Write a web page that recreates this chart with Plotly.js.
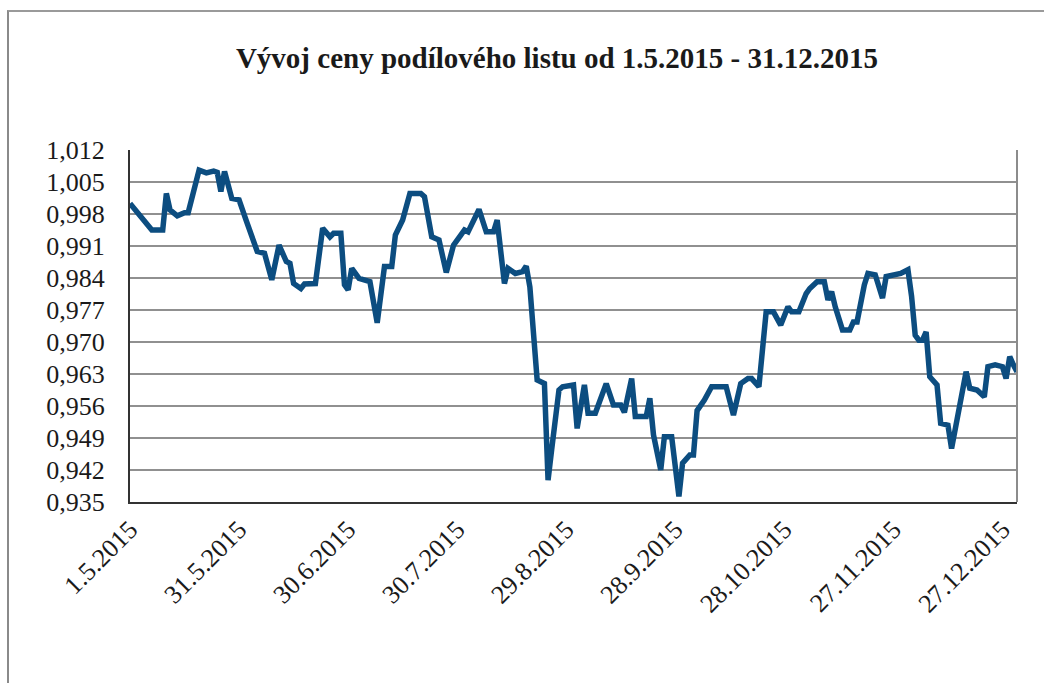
<!DOCTYPE html>
<html>
<head>
<meta charset="utf-8">
<script src="https://cdn.plot.ly/plotly-3.0.1.min.js"></script>
<style>
html,body{margin:0;padding:0;background:#fff;}
#wrap{position:relative;width:1044px;height:683px;}
#chart{position:absolute;left:0;top:0;width:1044px;height:683px;}
#frame{position:absolute;left:7px;top:10px;width:1037px;height:673px;border-top:2px solid #9a9a9a;border-left:2px solid #8a8a8a;pointer-events:none;}
</style>
</head>
<body>
<div id="wrap"><div id="chart"></div><div id="frame"></div></div>
<script>
const chartTitle = "Vývoj ceny podílového listu od 1.5.2015 - 31.12.2015";

const dates = [
"2015-05-01","2015-05-06","2015-05-07","2015-05-10","2015-05-11","2015-05-12","2015-05-14","2015-05-16","2015-05-17","2015-05-20",
"2015-05-22","2015-05-24","2015-05-25","2015-05-26","2015-05-27","2015-05-29","2015-05-31","2015-06-02","2015-06-05","2015-06-07",
"2015-06-09","2015-06-11","2015-06-13","2015-06-14","2015-06-15","2015-06-17","2015-06-18","2015-06-21","2015-06-23","2015-06-25",
"2015-06-26","2015-06-28","2015-06-29","2015-06-30","2015-07-01","2015-07-03","2015-07-05","2015-07-06","2015-07-08","2015-07-09",
"2015-07-10","2015-07-12","2015-07-13","2015-07-15","2015-07-17","2015-07-20","2015-07-21","2015-07-23","2015-07-25","2015-07-27",
"2015-07-29","2015-07-31","2015-08-01","2015-08-02","2015-08-03","2015-08-05","2015-08-07","2015-08-09","2015-08-10","2015-08-11",
"2015-08-12","2015-08-13","2015-08-15","2015-08-17","2015-08-18","2015-08-19","2015-08-20","2015-08-21","2015-08-23","2015-08-24",
"2015-08-25","2015-08-27","2015-08-28","2015-08-31","2015-09-01","2015-09-03","2015-09-04","2015-09-06","2015-09-09","2015-09-11",
"2015-09-13","2015-09-14","2015-09-16","2015-09-17","2015-09-20","2015-09-21","2015-09-22","2015-09-24","2015-09-25","2015-09-27",
"2015-09-29","2015-09-30","2015-10-02","2015-10-03","2015-10-04","2015-10-06","2015-10-08","2015-10-12","2015-10-14","2015-10-16",
"2015-10-18","2015-10-19","2015-10-21","2015-10-22","2015-10-23","2015-10-25","2015-10-27","2015-10-29","2015-10-30","2015-11-01",
"2015-11-03","2015-11-04","2015-11-06","2015-11-08","2015-11-09","2015-11-10","2015-11-11","2015-11-13","2015-11-15","2015-11-16",
"2015-11-17","2015-11-19","2015-11-20","2015-11-22","2015-11-24","2015-11-25","2015-11-27","2015-11-29","2015-12-01","2015-12-02",
"2015-12-03","2015-12-04","2015-12-05","2015-12-06","2015-12-07","2015-12-09","2015-12-10","2015-12-12","2015-12-13","2015-12-15",
"2015-12-17","2015-12-18","2015-12-20","2015-12-22","2015-12-23","2015-12-25","2015-12-27","2015-12-28","2015-12-29","2015-12-30",
"2015-12-31"
];

const prices = [
1.0003,0.9952,0.9945,0.9945,1.0025,0.9989,0.9976,0.9983,0.9983,1.0076,
1.0070,1.0074,1.0071,1.0029,1.0073,1.0014,1.0011,0.9965,0.9898,0.9894,
0.9836,0.9912,0.9876,0.9872,0.9828,0.9817,0.9827,0.9828,0.9949,0.9930,
0.9938,0.9938,0.9825,0.9814,0.9861,0.9839,0.9836,0.9832,0.9742,0.9814,
0.9865,0.9865,0.9934,0.9967,1.0025,1.0025,1.0018,0.9930,0.9923,0.9852,
0.9912,0.9934,0.9945,0.9941,0.9956,0.9990,0.9941,0.9941,0.9967,0.9901,
0.9828,0.9861,0.9850,0.9854,0.9866,0.9820,0.9720,0.9617,0.9609,0.9398,
0.9465,0.9595,0.9602,0.9606,0.9511,0.9606,0.9544,0.9544,0.9609,0.9562,
0.9562,0.9546,0.9620,0.9537,0.9537,0.9577,0.9497,0.9420,0.9493,0.9493,
0.9362,0.9435,0.9453,0.9453,0.9550,0.9573,0.9602,0.9602,0.9540,0.9609,
0.9620,0.9620,0.9602,0.9697,0.9766,0.9766,0.9737,0.9777,0.9766,0.9766,
0.9806,0.9817,0.9832,0.9832,0.9792,0.9810,0.9777,0.9726,0.9726,0.9744,
0.9744,0.9825,0.9850,0.9847,0.9796,0.9843,0.9847,0.9850,0.9858,0.9800,
0.9715,0.9704,0.9704,0.9722,0.9624,0.9606,0.9522,0.9518,0.9467,0.9559,
0.9635,0.9599,0.9595,0.9580,0.9646,0.9650,0.9646,0.9620,0.9668,0.9650,
0.9635
];

const xTickVals = ["2015-05-01","2015-05-31","2015-06-30","2015-07-30","2015-08-29","2015-09-28","2015-10-28","2015-11-27","2015-12-27"];
const xTickText = ["1.5.2015","31.5.2015","30.6.2015","30.7.2015","29.8.2015","28.9.2015","28.10.2015","27.11.2015","27.12.2015"];
const yTickVals = [0.935,0.942,0.949,0.956,0.963,0.970,0.977,0.984,0.991,0.998,1.005,1.012];
const yTickText = ["0,935","0,942","0,949","0,956","0,963","0,970","0,977","0,984","0,991","0,998","1,005","1,012"];

const serif = '"Liberation Serif", "Times New Roman", serif';

const trace = {
  x: dates, y: prices, type: 'scatter', mode: 'lines',
  line: {color: '#0c4d80', width: 5.5, shape: 'linear'},
  hoverinfo: 'x+y'
};

const layout = {
  width: 1044, height: 683,
  paper_bgcolor: '#ffffff', plot_bgcolor: '#ffffff',
  margin: {l: 130, r: 27, t: 150, b: 181, pad: 0},
  showlegend: false,
  title: {
    text: '<b>' + chartTitle + '</b>',
    font: {family: serif, size: 29, color: '#1a1a1a'},
    x: 0.5335, xref: 'container', xanchor: 'center',
    y: 0.915, yref: 'container', yanchor: 'middle'
  },
  xaxis: {
    type: 'date',
    range: ['2015-05-01', '2015-12-31'],
    tickmode: 'array', tickvals: xTickVals, ticktext: xTickText,
    tickangle: -45,
    tickfont: {family: serif, size: 26, color: '#1a1a1a'},
    showgrid: false, zeroline: false,
    showline: true, linecolor: '#333333', linewidth: 2,
    ticks: '', ticklen: 0
  },
  yaxis: {
    range: [0.935, 1.012],
    tickmode: 'array', tickvals: yTickVals, ticktext: yTickText,
    tickfont: {family: serif, size: 26, color: '#1a1a1a'},
    showgrid: true, gridcolor: '#909090', gridwidth: 2,
    zeroline: false,
    showline: true, linecolor: '#333333', linewidth: 2,
    ticks: '', ticklen: 0, ticklabelstandoff: 18
  },
  shapes: [
    {type: 'line', xref: 'paper', yref: 'paper', x0: 1, x1: 1, y0: 0, y1: 1,
     line: {color: '#8c8c8c', width: 2}}
  ]
};

Plotly.newPlot('chart', [trace], layout, {displayModeBar: false, staticPlot: true});
</script>
</body>
</html>
